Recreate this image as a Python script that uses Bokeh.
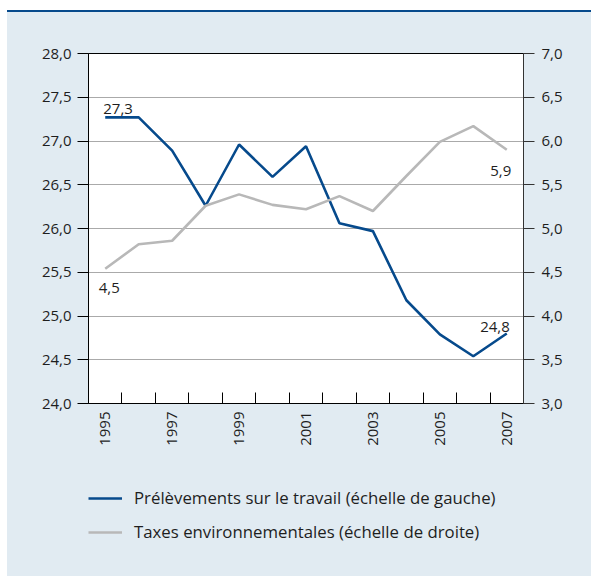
import math
from bokeh.plotting import figure
from bokeh.models import (Range1d, LinearAxis, FixedTicker, Legend, LegendItem, Div,
                          ColumnDataSource, CustomJSTickFormatter)
from bokeh.layouts import column
from bokeh.core.properties import value
from bokeh.embed import file_html
from bokeh.resources import INLINE

# ---- data ----
years = list(range(1995, 2008))
travail = [27.27, 27.27, 26.89, 26.26, 26.96, 26.59, 26.94, 26.06, 25.97, 25.18, 24.79, 24.54, 24.80]
environ = [4.54, 4.82, 4.86, 5.26, 5.39, 5.27, 5.22, 5.37, 5.20, 5.60, 5.99, 6.17, 5.90]
left_ticks = [24.0, 24.5, 25.0, 25.5, 26.0, 26.5, 27.0, 27.5, 28.0]
right_ticks = [3.0, 3.5, 4.0, 4.5, 5.0, 5.5, 6.0, 6.5, 7.0]
year_labels = [1995, 1997, 1999, 2001, 2003, 2005, 2007]
label_travail = "Prélèvements sur le travail (échelle de gauche)"
label_env = "Taxes environnementales (échelle de droite)"

FONT = "Open Sans"
BLUE = "#064a8c"
GREY = "#b8b8b8"
BG = "#e1ebf2"
TXT = "#1e1e1e"

def fr(v):
    return f"{v:.1f}".replace(".", ",")

src = ColumnDataSource(dict(year=years, travail=travail, environ=environ))

p = figure(width=584, height=458,
           x_range=Range1d(years[0] - 0.5, years[-1] + 0.5),
           y_range=Range1d(left_ticks[0], left_ticks[-1]),
           output_backend="svg", toolbar_location=None,
           min_border_left=81, min_border_right=68, min_border_top=41, min_border_bottom=67,
           background_fill_color="white", border_fill_color=BG,
           outline_line_color="black", outline_line_width=1)
p.margin = (0, 0, 0, 7)
p.styles = {"background-color": BG}
p.extra_y_ranges = {"right": Range1d(right_ticks[0], right_ticks[-1])}

fmt = CustomJSTickFormatter(code="return tick.toFixed(1).replace('.', ',');")

# left axis
ya = p.yaxis[0]
ya.ticker = FixedTicker(ticks=left_ticks)
ya.formatter = fmt
ya.major_tick_out = 11
ya.major_tick_in = 0
ya.minor_tick_out = 0
ya.minor_tick_in = 0
ya.major_label_standoff = 6
ya.axis_line_color = "black"
ya.major_tick_line_color = "black"

# right axis
ra = LinearAxis(y_range_name="right", ticker=FixedTicker(ticks=right_ticks), formatter=fmt)
ra.major_tick_out = 11
ra.major_tick_in = 0
ra.minor_tick_out = 0
ra.minor_tick_in = 0
ra.major_label_standoff = 7
ra.axis_line_color = "#333333"
ra.major_tick_line_color = "#333333"
p.add_layout(ra, "right")

# bottom axis
xa = p.xaxis[0]
xa.ticker = FixedTicker(ticks=year_labels, minor_ticks=[y + 0.5 for y in years[:-1]])
xa.major_tick_out = 0
xa.major_tick_in = 0
xa.minor_tick_in = 11
xa.minor_tick_out = 0
xa.minor_tick_line_color = "black"
xa.axis_line_color = "black"
xa.major_label_orientation = math.pi / 2
xa.major_label_standoff = 8

for ax in (ya, ra, xa):
    ax.major_label_text_font = FONT
    ax.major_label_text_font_size = "15px"
    ax.major_label_text_color = TXT

p.xgrid.visible = False
p.ygrid.ticker = FixedTicker(ticks=left_ticks)
p.ygrid.grid_line_color = "#aaaaaa"
p.ygrid.grid_line_width = 1

p.line("year", "travail", source=src, line_color=BLUE, line_width=2.6)
p.line("year", "environ", source=src, line_color=GREY, line_width=2.6, y_range_name="right")

# value annotations
tk = dict(text_font=value(FONT), text_font_size="15px", text_color=TXT)
p.text(x=[years[0]], y=[travail[0]], text=[fr(travail[0])], text_align="left",
       text_baseline="alphabetic", x_offset=-2, y_offset=-8, **tk)
p.text(x=[years[-1]], y=[travail[-1]], text=[fr(travail[-1])], text_align="right",
       text_baseline="alphabetic", x_offset=3, y_offset=-7, **tk)
p.text(x=[years[0]], y=[environ[0]], text=[fr(environ[0])], text_align="center",
       text_baseline="alphabetic", x_offset=4, y_offset=19, y_range_name="right", **tk)
p.text(x=[years[-1]], y=[environ[-1]], text=[fr(environ[-1])], text_align="center",
       text_baseline="alphabetic", x_offset=-6, y_offset=21, y_range_name="right", **tk)

# legend panel (separate strip below the chart; its lines lie outside its view)
pl = figure(width=584, height=106, x_range=Range1d(0, 1), y_range=Range1d(0, 1),
            output_backend="svg", toolbar_location=None,
            x_axis_location=None, y_axis_location=None,
            min_border=0, background_fill_color=BG, border_fill_color=BG,
            outline_line_color=None)
pl.margin = (0, 0, 0, 7)
pl.styles = {"background-color": BG}
pl.xgrid.visible = False
pl.ygrid.visible = False
l1 = pl.line(x=years, y=travail, line_color=BLUE, line_width=2.6)
l2 = pl.line(x=years, y=environ, line_color=GREY, line_width=2.6)

legend = Legend(items=[LegendItem(label=label_travail, renderers=[l1]),
                       LegendItem(label=label_env, renderers=[l2])],
                location=(0, 33), orientation="vertical", margin=0,
                padding=0, spacing=11, glyph_width=34, glyph_height=20, label_height=20,
                label_standoff=12, label_text_font=FONT, label_text_font_size="16.8px",
                label_text_color=TXT, background_fill_alpha=0, border_line_alpha=0)
pl.add_layout(legend, "center")

topline = Div(width=584, height=2, margin=(10, 0, 0, 7), styles={"background-color": BLUE})

layout = column(topline, p, pl, spacing=0)
open("out.html", "w").write(file_html(layout, INLINE))
